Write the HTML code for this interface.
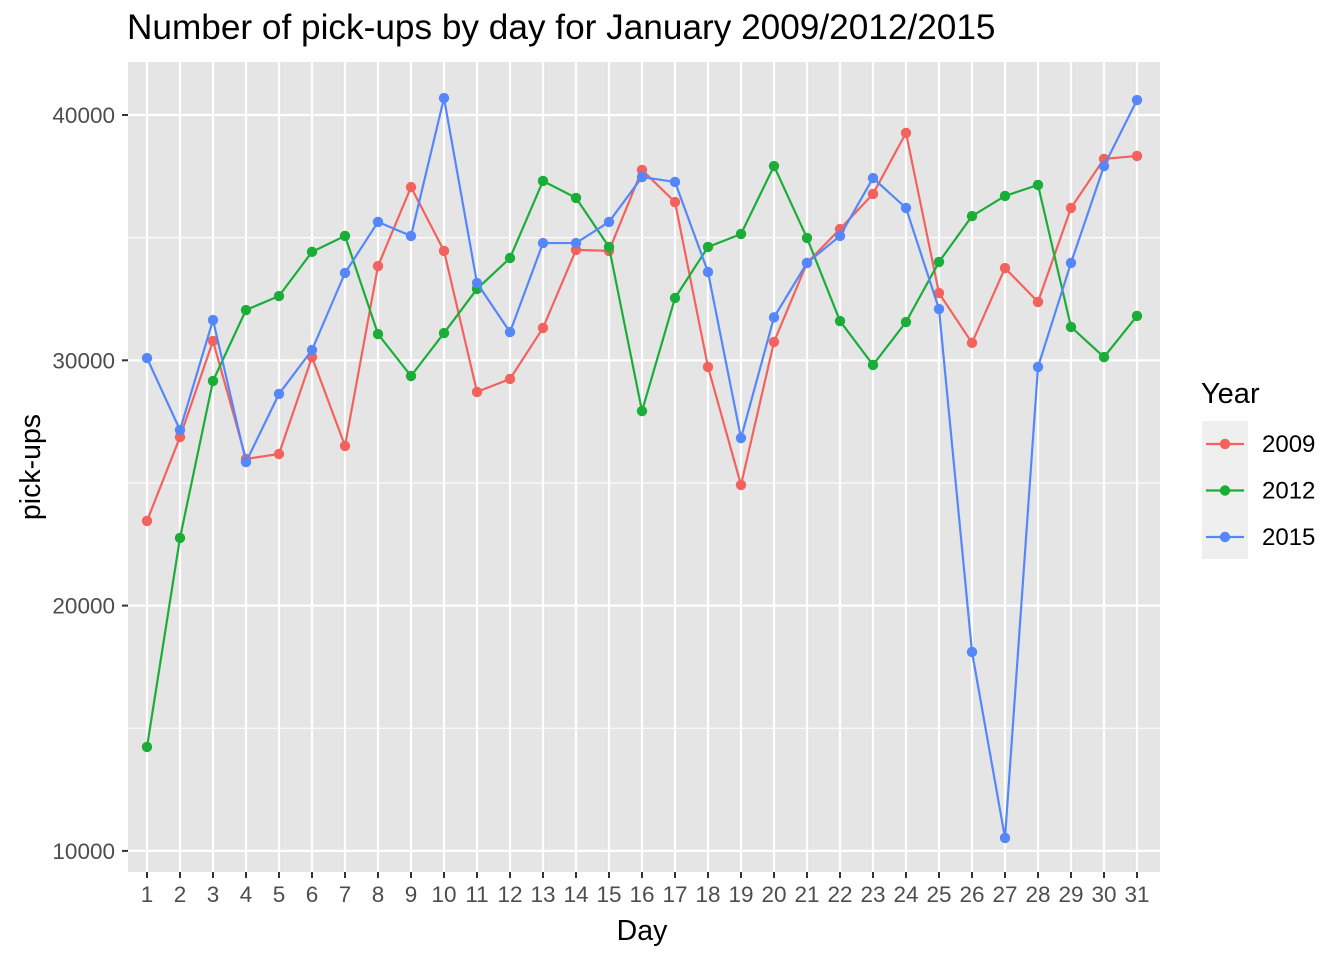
<!DOCTYPE html>
<html><head><meta charset="utf-8"><style>
html,body{margin:0;padding:0;background:#fff;}
svg{display:block;font-family:"Liberation Sans",Arial,sans-serif;}
</style></head><body>
<svg id="chart" width="1344" height="960" xmlns="http://www.w3.org/2000/svg">
<text x="127" y="39" font-size="35.2" fill="#000">Number of pick-ups by day for January 2009/2012/2015</text>
<rect x="128" y="62" width="1032" height="810" fill="#e5e5e5"/>
<g id="grid"></g>
<g id="series"></g>
<g id="axes"></g>
<text x="642" y="940" font-size="28.5" text-anchor="middle" fill="#000">Day</text>
<text transform="translate(40,467) rotate(-90)" font-size="28.5" text-anchor="middle" fill="#000">pick-ups</text>
<g id="legend">
<text x="1201" y="403" font-size="29" fill="#000">Year</text>
<rect x="1202" y="421" width="46" height="138" fill="#efefef"/>
</g>
</svg>
<script>
const days=[];for(let i=1;i<=31;i++)days.push(i);
const years=["2009","2012","2015"];
const colors=["#F3625D","#1AAE38","#5587FB"];
const v2009=[23450,26870,30790,25980,26180,30130,26510,33840,37060,34460,28710,29240,31320,34500,34460,37760,36450,29730,24920,30750,33970,35350,36780,39270,32740,30710,33760,32380,36210,38210,38330];
const v2012=[14240,22760,29160,32050,32620,34420,35070,31070,29360,31110,32910,34170,37310,36620,34620,27930,32540,34620,35150,37920,34990,31600,29810,31560,34010,35880,36700,37150,31360,30130,31810];
const v2015=[30090,27160,31640,25850,28630,30420,33560,35640,35070,40690,33150,31150,34780,34780,35640,37470,37270,33600,26830,31750,33970,35070,37430,36210,32090,18110,10530,29730,33970,37920,40610];
const yTicks=[10000,20000,30000,40000];
const yMinor=[15000,25000,35000];
const NS="http://www.w3.org/2000/svg";
function X(d){return 147+(d-1)*33;}
function Y(v){return 115+(40000-v)*245.3/10000;}
function mk(tag,attrs,parent){const e=document.createElementNS(NS,tag);for(const k in attrs)e.setAttribute(k,attrs[k]);parent.appendChild(e);return e;}
const grid=document.getElementById('grid'),axes=document.getElementById('axes'),ser=document.getElementById('series');
yMinor.forEach(v=>{const l=mk('line',{x1:128,x2:1160,y1:Y(v),y2:Y(v),stroke:'#fff','stroke-width':1.1},grid);

});
yTicks.forEach(v=>{const l=mk('line',{x1:128,x2:1160,y1:Y(v),y2:Y(v),stroke:'#fff','stroke-width':2.2},grid);


const t=mk('line',{x1:122,x2:128,y1:Y(v),y2:Y(v),stroke:'#333','stroke-width':2},axes);


const tx=mk('text',{x:115,y:Y(v)+8,'font-size':22.5,'text-anchor':'end',fill:'#4d4d4d'},axes);tx.textContent=v;

});
days.forEach(d=>{const l=mk('line',{x1:X(d),x2:X(d),y1:62,y2:872,stroke:'#fff','stroke-width':2.2},grid);


const t=mk('line',{x1:X(d),x2:X(d),y1:872,y2:878,stroke:'#333','stroke-width':2},axes);


const tx=mk('text',{x:X(d),y:902,'font-size':22.5,'text-anchor':'middle',fill:'#4d4d4d'},axes);tx.textContent=d;

});
const all=[v2009,v2012,v2015];
all.forEach((vals,i)=>{
 const g=mk('g',{},ser);
 
 
 const pl=mk('polyline',{points:vals.map((v,j)=>X(days[j])+','+Y(v)).join(' '),fill:'none',stroke:colors[i],'stroke-width':2.2},g);
 
 
 vals.forEach((v,j)=>{const c=mk('circle',{cx:X(days[j]),cy:Y(v),r:5.2,fill:colors[i]},g);
 
 });
});
const lg=document.getElementById('legend');
years.forEach((y,i)=>{const cy=444+i*46.5;
 const l=mk('line',{x1:1206,x2:1244,y1:cy,y2:cy,stroke:colors[i],'stroke-width':2.2},lg);
 
 
 const c=mk('circle',{cx:1225,cy:cy,r:5.2,fill:colors[i]},lg);
 
 
 const t=mk('text',{x:1262,y:cy+8,'font-size':24,fill:'#000'},lg);t.textContent=y;
 
 });
</script>
</body></html>
